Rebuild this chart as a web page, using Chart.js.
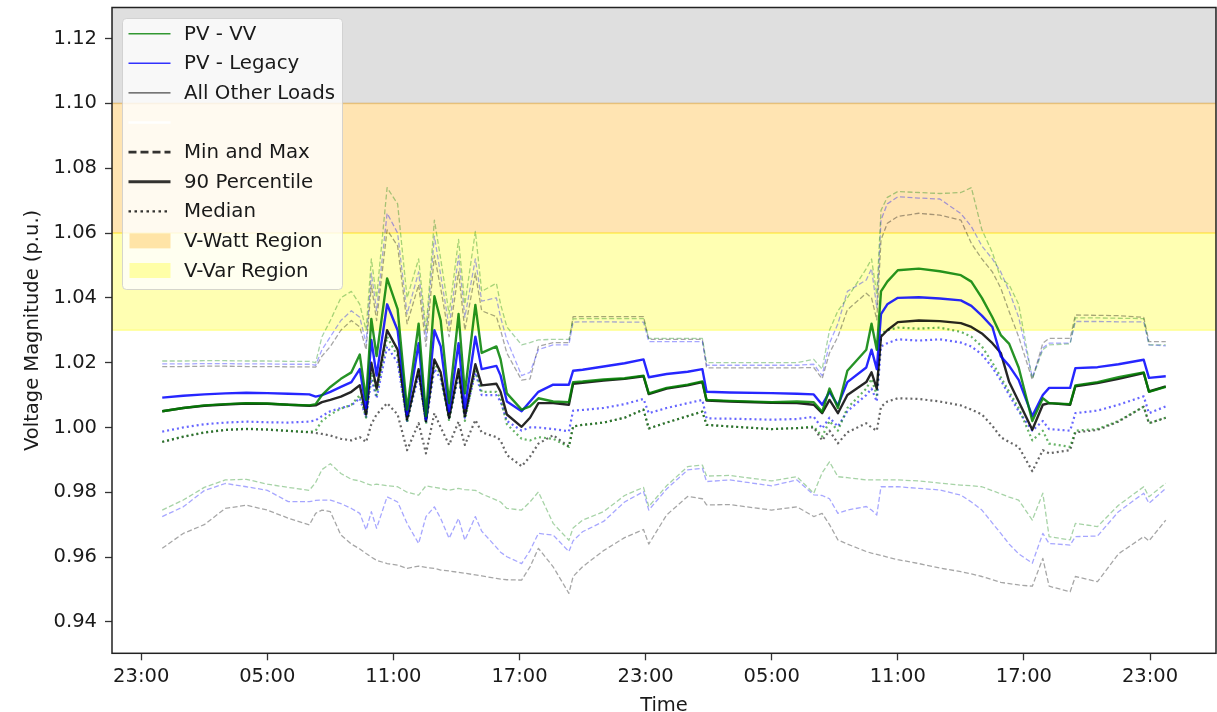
<!DOCTYPE html>
<html>
<head>
<meta charset="utf-8">
<title>Voltage magnitude</title>
<script src="https://cdn.jsdelivr.net/npm/chart.js@4.4.0/dist/chart.umd.min.js"></script>
<style>
  html, body { margin: 0; padding: 0; background: #fff; }
  #wrap { width: 1217px; height: 712px; position: relative; }
</style>
</head>
<body>
<div id="wrap"><canvas id="chart"></canvas></div>
<script>
// hours after 23:00 of the first day (t = 1 is 00:00)
const timeHours = [1,2,3,4,5,6,7,8,8.3,8.6, 9,9.5,10,10.4,10.7,10.95,11.2,11.7,12.2,12.65, 13.2,13.55,13.95,14.25,14.65,15.1,15.4,15.9,16.2,16.9, 17.1,17.4,18.1,18.5,18.9,19.6,20.35,20.55,21,22, 23,23.9,24.15,25,26,26.7,26.9,28,30,31.2, 32,32.4,32.75,33.15,33.6,34.5,34.75,35,35.2,35.5, 36,37,38,39,39.5,40,40.5,40.9,41.3,41.75, 42.4,42.9,43.2,44.2,44.45,45.5,46.5,47.7,47.95,48.75];

// PV - VV
const vvMax = [1.0205,1.0205,1.0206,1.0206,1.0205,1.0205,1.0204,1.0204,1.0200,1.0280, 1.0330,1.0400,1.0420,1.0380,1.0300,1.0520,1.0400,1.0740,1.0690,1.0400, 1.0520,1.0300,1.0640,1.0520,1.0350,1.0580,1.0380,1.0605,1.0420,1.0445, 1.0380,1.0310,1.0255,1.0262,1.0270,1.0272,1.0272,1.0335,1.0336,1.0336, 1.0336,1.0336,1.0275,1.0275,1.0275,1.0275,1.0200,1.0200,1.0200,1.0200, 1.0210,1.0180,1.0300,1.0360,1.0400,1.0490,1.0520,1.0410,1.0670,1.0710, 1.0728,1.0725,1.0722,1.0725,1.0740,1.0610,1.0540,1.0460,1.0440,1.0380, 1.0150,1.0240,1.0255,1.0258,1.0338,1.0338,1.0337,1.0336,1.0255,1.0255];
const vv90 = [1.0050,1.0060,1.0068,1.0072,1.0075,1.0074,1.0070,1.0068,1.0072,1.0100, 1.0125,1.0150,1.0170,1.0225,1.0085,1.0335,1.0220,1.0460,1.0365,1.0055, 1.0320,1.0035,1.0405,1.0330,1.0075,1.0350,1.0105,1.0378,1.0230,1.0250, 1.0210,1.0105,1.0055,1.0065,1.0090,1.0080,1.0078,1.0140,1.0142,1.0148, 1.0152,1.0160,1.0105,1.0122,1.0132,1.0142,1.0085,1.0082,1.0078,1.0080, 1.0078,1.0048,1.0120,1.0060,1.0175,1.0240,1.0320,1.0240,1.0420,1.0450, 1.0485,1.0490,1.0482,1.0470,1.0450,1.0400,1.0340,1.0285,1.0258,1.0185, 1.0020,1.0090,1.0075,1.0072,1.0130,1.0140,1.0155,1.0170,1.0110,1.0125];
const vvMedian = [0.9956,0.9972,0.9985,0.9993,0.9996,0.9994,0.9990,0.9986,0.9990,1.0020, 1.0040,1.0058,1.0070,1.0100,1.0030,1.0170,1.0100,1.0280,1.0220,1.0015, 1.0180,1.0010,1.0200,1.0160,1.0020,1.0170,1.0020,1.0180,1.0110,1.0110, 1.0090,1.0010,0.9965,0.9960,0.9970,0.9965,0.9940,1.0003,1.0008,1.0015, 1.0030,1.0055,0.9997,1.0015,1.0035,1.0049,1.0008,1.0003,0.9995,0.9998, 1.0003,0.9972,1.0020,0.9990,1.0060,1.0120,1.0150,1.0100,1.0290,1.0300, 1.0308,1.0305,1.0308,1.0295,1.0280,1.0250,1.0200,1.0155,1.0110,1.0060, 0.9960,0.9990,0.9950,0.9940,0.9990,0.9995,1.0020,1.0064,1.0013,1.0030];
const vvMin = [0.9745,0.9776,0.9815,0.9838,0.9840,0.9825,0.9815,0.9806,0.9830,0.9870, 0.9888,0.9858,0.9840,0.9835,0.9827,0.9822,0.9825,0.9820,0.9817,0.9800, 0.9791,0.9820,0.9815,0.9812,0.9806,0.9812,0.9808,0.9806,0.9795,0.9776, 0.9770,0.9750,0.9745,0.9770,0.9801,0.9704,0.9652,0.9690,0.9714,0.9740, 0.9790,0.9815,0.9756,0.9820,0.9879,0.9884,0.9850,0.9852,0.9835,0.9848, 0.9797,0.9860,0.9894,0.9848,0.9845,0.9838,0.9838,0.9838,0.9838,0.9838, 0.9838,0.9835,0.9828,0.9822,0.9820,0.9817,0.9805,0.9795,0.9785,0.9776, 0.9714,0.9797,0.9663,0.9653,0.9704,0.9694,0.9760,0.9817,0.9786,0.9828];

// PV - Legacy
const legMax = [1.0196,1.0196,1.0197,1.0197,1.0196,1.0196,1.0195,1.0195,1.0192,1.0240, 1.0280,1.0330,1.0360,1.0340,1.0260,1.0476,1.0360,1.0661,1.0600,1.0350, 1.0480,1.0280,1.0590,1.0470,1.0310,1.0530,1.0340,1.0520,1.0390,1.0400, 1.0340,1.0270,1.0160,1.0170,1.0240,1.0255,1.0255,1.0325,1.0326,1.0326, 1.0325,1.0325,1.0265,1.0265,1.0265,1.0265,1.0192,1.0192,1.0192,1.0192, 1.0195,1.0160,1.0260,1.0320,1.0420,1.0455,1.0490,1.0370,1.0640,1.0690, 1.0712,1.0708,1.0705,1.0660,1.0620,1.0560,1.0520,1.0480,1.0420,1.0340, 1.0155,1.0245,1.0260,1.0260,1.0327,1.0327,1.0326,1.0326,1.0255,1.0252];
const leg90 = [1.0092,1.0098,1.0102,1.0105,1.0107,1.0106,1.0104,1.0102,1.0095,1.0100, 1.0110,1.0125,1.0140,1.0180,1.0060,1.0270,1.0160,1.0380,1.0300,1.0040, 1.0260,1.0025,1.0300,1.0250,1.0050,1.0260,1.0060,1.0280,1.0180,1.0190, 1.0160,1.0080,1.0050,1.0080,1.0110,1.0132,1.0132,1.0175,1.0178,1.0188, 1.0198,1.0210,1.0155,1.0165,1.0172,1.0180,1.0110,1.0108,1.0106,1.0104, 1.0102,1.0070,1.0110,1.0068,1.0140,1.0185,1.0240,1.0180,1.0350,1.0380, 1.0400,1.0402,1.0398,1.0392,1.0375,1.0345,1.0310,1.0220,1.0190,1.0147, 1.0035,1.0100,1.0122,1.0122,1.0183,1.0186,1.0195,1.0209,1.0153,1.0158];
const legMedian = [0.9987,1.0000,1.0010,1.0015,1.0018,1.0016,1.0015,1.0018,1.0022,1.0035, 1.0050,1.0060,1.0068,1.0090,1.0030,1.0150,1.0090,1.0250,1.0200,1.0020, 1.0160,1.0015,1.0180,1.0150,1.0030,1.0160,1.0030,1.0170,1.0100,1.0100, 1.0080,1.0020,0.9990,1.0000,1.0000,0.9995,0.9988,1.0052,1.0054,1.0060, 1.0072,1.0088,1.0044,1.0060,1.0075,1.0085,1.0028,1.0027,1.0024,1.0026, 1.0033,0.9997,1.0030,1.0003,1.0050,1.0100,1.0120,1.0080,1.0250,1.0260, 1.0272,1.0268,1.0272,1.0262,1.0250,1.0225,1.0185,1.0145,1.0100,1.0050, 0.9990,1.0020,0.9995,0.9990,1.0044,1.0052,1.0070,1.0096,1.0044,1.0065];
const legMin = [0.9725,0.9755,0.9805,0.9827,0.9817,0.9806,0.9771,0.9771,0.9775,0.9776, 0.9776,0.9765,0.9750,0.9735,0.9684,0.9740,0.9689,0.9786,0.9770,0.9704, 0.9642,0.9725,0.9755,0.9719,0.9658,0.9719,0.9652,0.9725,0.9680,0.9630, 0.9615,0.9601,0.9580,0.9620,0.9673,0.9668,0.9617,0.9650,0.9678,0.9710, 0.9770,0.9802,0.9745,0.9810,0.9869,0.9874,0.9833,0.9838,0.9820,0.9838, 0.9792,0.9790,0.9780,0.9735,0.9745,0.9756,0.9745,0.9730,0.9817,0.9817, 0.9817,0.9812,0.9807,0.9791,0.9770,0.9745,0.9705,0.9673,0.9640,0.9610, 0.9581,0.9673,0.9642,0.9637,0.9663,0.9665,0.9740,0.9797,0.9766,0.9812];

// All Other Loads
const otherMax = [1.0188,1.0188,1.0189,1.0189,1.0188,1.0188,1.0187,1.0187,1.0186,1.0220, 1.0250,1.0300,1.0330,1.0310,1.0240,1.0440,1.0330,1.0610,1.0560,1.0320, 1.0440,1.0250,1.0530,1.0430,1.0280,1.0480,1.0300,1.0476,1.0360,1.0342, 1.0300,1.0229,1.0146,1.0150,1.0250,1.0262,1.0262,1.0342,1.0342,1.0342, 1.0342,1.0342,1.0272,1.0272,1.0272,1.0272,1.0184,1.0184,1.0184,1.0184, 1.0185,1.0150,1.0230,1.0280,1.0363,1.0414,1.0400,1.0332,1.0579,1.0630, 1.0651,1.0661,1.0655,1.0640,1.0568,1.0520,1.0480,1.0430,1.0357,1.0280, 1.0147,1.0260,1.0275,1.0275,1.0347,1.0346,1.0345,1.0340,1.0265,1.0265];
const other90 = [1.0050,1.0060,1.0067,1.0071,1.0074,1.0073,1.0070,1.0067,1.0068,1.0078, 1.0085,1.0095,1.0110,1.0130,1.0040,1.0200,1.0120,1.0300,1.0240,1.0025, 1.0180,1.0020,1.0210,1.0170,1.0030,1.0180,1.0035,1.0195,1.0130,1.0135, 1.0110,1.0040,1.0002,1.0030,1.0075,1.0075,1.0070,1.0135,1.0138,1.0145, 1.0150,1.0158,1.0103,1.0120,1.0130,1.0140,1.0083,1.0080,1.0076,1.0075, 1.0070,1.0044,1.0085,1.0044,1.0100,1.0140,1.0170,1.0120,1.0280,1.0300, 1.0325,1.0330,1.0328,1.0322,1.0310,1.0290,1.0260,1.0230,1.0140,1.0080, 0.9993,1.0070,1.0075,1.0070,1.0127,1.0137,1.0150,1.0168,1.0111,1.0127];
const otherMedian = [0.9955,0.9971,0.9984,0.9992,0.9995,0.9993,0.9989,0.9985,0.9983,0.9980, 0.9975,0.9965,0.9960,0.9970,0.9955,1.0010,1.0040,1.0075,1.0040,0.9930, 1.0013,0.9920,1.0044,1.0000,0.9946,1.0018,0.9946,1.0023,0.9985,0.9970, 0.9960,0.9915,0.9880,0.9910,0.9950,0.9976,0.9941,1.0003,1.0008,1.0015, 1.0030,1.0055,0.9997,1.0015,1.0035,1.0049,1.0008,1.0003,0.9995,0.9998, 1.0000,0.9960,0.9990,0.9951,0.9985,1.0013,1.0000,0.9990,1.0064,1.0080, 1.0090,1.0088,1.0080,1.0068,1.0055,1.0040,1.0005,0.9970,0.9955,0.9940, 0.9865,0.9930,0.9920,0.9930,0.9985,0.9992,1.0018,1.0064,1.0013,1.0030];
const otherMin = [0.9627,0.9673,0.9700,0.9750,0.9760,0.9745,0.9720,0.9699,0.9735,0.9745, 0.9740,0.9668,0.9640,0.9625,0.9611,0.9600,0.9590,0.9580,0.9575,0.9565, 0.9572,0.9568,0.9565,0.9560,0.9557,0.9553,0.9550,0.9545,0.9542,0.9534, 0.9532,0.9530,0.9529,0.9570,0.9627,0.9570,0.9488,0.9540,0.9570,0.9620, 0.9660,0.9685,0.9640,0.9730,0.9787,0.9780,0.9761,0.9762,0.9745,0.9755, 0.9725,0.9735,0.9700,0.9653,0.9640,0.9617,0.9612,0.9608,0.9605,0.9600, 0.9592,0.9580,0.9566,0.9555,0.9548,0.9540,0.9530,0.9522,0.9518,0.9514, 0.9510,0.9596,0.9510,0.9493,0.9540,0.9524,0.9610,0.9663,0.9650,0.9714];

const xTickHours = [0, 6, 12, 18, 24, 30, 36, 42, 48];
const xTickLabels = ["23:00", "05:00", "11:00", "17:00", "23:00", "05:00", "11:00", "17:00", "23:00"];
const yTicks = [0.94, 0.96, 0.98, 1.00, 1.02, 1.04, 1.06, 1.08, 1.10, 1.12];

// shaded regions (lower, upper in p.u.)
const bandNames = ["over", "V-Watt Region", "V-Var Region"];
const bandLow = [1.10, 1.06, 1.03];
const bandHigh = [1.20, 1.10, 1.06];

const legendLabels = ["PV - VV", "PV - Legacy", "All Other Loads", "", "Min and Max", "90 Percentile", "Median", "V-Watt Region", "V-Var Region"];

const FONT = "DejaVu Sans";
const TXT = "#1a1a1a";
const bandColors = ["rgba(128,128,128,0.25)", "rgba(255,165,0,0.3)", "rgba(255,255,0,0.3)"];

function pts(values) {
  return timeHours.map((t, i) => ({ x: t, y: values[i] }));
}

function rgba(rgb, a) {
  return `rgba(${rgb},${a})`;
}

const GREEN = "0,128,0", BLUE = "0,0,255", BLACK = "0,0,0";

function solid(label, values, rgb) {
  return { label, data: pts(values), borderColor: rgba(rgb, 0.85), borderWidth: 2.4 };
}
function dotted(label, values, rgb) {
  return { label, data: pts(values), borderColor: rgba(rgb, 0.6), borderWidth: 2.2, borderDash: [2, 3] };
}
function dashed(label, values, rgb) {
  return { label, data: pts(values), borderColor: rgba(rgb, 0.35), borderWidth: 1.3, borderDash: [5, 2.5] };
}

const datasets = [
  solid("PV - VV 90", vv90, GREEN),
  solid("PV - Legacy 90", leg90, BLUE),
  solid("Other 90", other90, BLACK),
  dotted("PV - VV median", vvMedian, GREEN),
  dotted("PV - Legacy median", legMedian, BLUE),
  dotted("Other median", otherMedian, BLACK),
  dashed("PV - VV max", vvMax, GREEN),
  dashed("PV - Legacy max", legMax, BLUE),
  dashed("Other max", otherMax, BLACK),
  dashed("PV - VV min", vvMin, GREEN),
  dashed("PV - Legacy min", legMin, BLUE),
  dashed("Other min", otherMin, BLACK),
];

const bandPlugin = {
  id: "bands",
  beforeDatasetsDraw(chart) {
    const { ctx, chartArea: a, scales: { y } } = chart;
    ctx.save();
    ctx.beginPath();
    ctx.rect(a.left, a.top, a.right - a.left, a.bottom - a.top);
    ctx.clip();
    bandNames.forEach((name, i) => {
      const top = y.getPixelForValue(bandHigh[i]);
      const bottom = y.getPixelForValue(bandLow[i]);
      ctx.fillStyle = bandColors[i];
      ctx.fillRect(a.left, top, a.right - a.left, bottom - top);
      ctx.strokeStyle = bandColors[i];
      ctx.lineWidth = 1.5;
      ctx.strokeRect(a.left, top, a.right - a.left, bottom - top);
    });
    ctx.restore();
  },
  afterDatasetsDraw(chart) {
    const { ctx, chartArea: a } = chart;
    ctx.save();
    ctx.strokeStyle = "#222";
    ctx.lineWidth = 1.5;
    ctx.strokeRect(a.left, a.top, a.right - a.left, a.bottom - a.top);
    ctx.restore();
  },
};

// matplotlib style legend box in the upper left corner
const legendPlugin = {
  id: "boxLegend",
  afterDraw(chart) {
    const { ctx, chartArea: a } = chart;
    const x0 = a.left + 10.5, y0 = a.top + 11, w = 220, h = 271;
    const rowH = 29.6;
    ctx.save();
    ctx.beginPath();
    ctx.roundRect(x0, y0, w, h, 4);
    ctx.fillStyle = "rgba(255,255,255,0.8)";
    ctx.fill();
    ctx.strokeStyle = "rgba(204,204,204,0.8)";
    ctx.lineWidth = 1;
    ctx.stroke();

    const hx0 = x0 + 6, hx1 = x0 + 48;
    const handle = (i, color, width, dash) => {
      const yy = y0 + 15.2 + i * rowH;
      ctx.beginPath();
      ctx.setLineDash(dash || []);
      ctx.strokeStyle = color;
      ctx.lineWidth = width;
      ctx.moveTo(hx0, yy);
      ctx.lineTo(hx1, yy);
      ctx.stroke();
    };
    handle(0, "rgba(0,128,0,0.8)", 1.4);
    handle(1, "rgba(0,0,255,0.8)", 1.4);
    handle(2, "rgba(0,0,0,0.7)", 1.4);
    handle(3, "#ffffff", 2.5);
    handle(4, "rgba(0,0,0,0.8)", 2.8, [8, 4]);
    handle(5, "rgba(0,0,0,0.8)", 3);
    handle(6, "rgba(0,0,0,0.8)", 2.2, [2.5, 3.5]);
    ctx.setLineDash([]);
    [7, 8].forEach((i, k) => {
      const yy = y0 + 15.2 + i * rowH;
      ctx.fillStyle = bandColors[k + 1];
      ctx.fillRect(hx0 + 1, yy - 7.5, hx1 - hx0 - 1, 15);
    });

    ctx.fillStyle = TXT;
    ctx.font = `19.8px "${FONT}"`;
    ctx.textBaseline = "middle";
    ctx.textAlign = "left";
    legendLabels.forEach((lab, i) => {
      if (lab) ctx.fillText(lab, x0 + 61.5, y0 + 15.2 + i * rowH + 1);
    });
    ctx.restore();
  },
};

const tickFont = { family: FONT, size: 19.5 };

new Chart(document.getElementById("chart"), {
  type: "line",
  data: { datasets },
  options: {
    responsive: true,
    maintainAspectRatio: false,
    animation: false,
    devicePixelRatio: 1,
    parsing: false,
    layout: { padding: { top: 7.5, right: 1, left: 0, bottom: 0 } },
    elements: {
      point: { radius: 0 },
      line: { tension: 0, borderJoinStyle: "round", borderCapStyle: "butt" },
    },
    plugins: { legend: { display: false }, tooltip: { enabled: false } },
    scales: {
      x: {
        type: "linear",
        min: -1.39,
        max: 51.14,
        afterBuildTicks: (s) => { s.ticks = xTickHours.map((v) => ({ value: v })); },
        afterFit: (s) => { s.height = 58.7; s.paddingLeft = 0; s.paddingRight = 0; },
        ticks: {
          autoSkip: false,
          maxRotation: 0,
          padding: 5,
          color: TXT,
          font: tickFont,
          callback: (v, i) => xTickLabels[i],
        },
        grid: { drawOnChartArea: false, drawTicks: true, tickLength: 7, tickColor: "#333", tickWidth: 1.3 },
        border: { display: false },
        title: { display: true, text: "Time", color: TXT, font: { family: FONT, size: 19.5, lineHeight: 0.67 }, padding: { top: 0, bottom: 0 } },
      },
      y: {
        type: "linear",
        min: 0.9303,
        max: 1.1296,
        afterBuildTicks: (s) => { s.ticks = yTicks.map((v) => ({ value: v })); },
        afterFit: (s) => { s.width = 112; s.paddingTop = 0; s.paddingBottom = 0; },
        ticks: {
          padding: 8,
          color: TXT,
          font: tickFont,
          callback: (v) => Number(v).toFixed(2),
        },
        grid: { drawOnChartArea: false, drawTicks: true, tickLength: 7, tickColor: "#333", tickWidth: 1.3 },
        border: { display: false },
        title: { display: true, text: "Voltage Magnitude (p.u.)", color: TXT, font: { family: FONT, size: 19.5, lineHeight: 1 }, padding: { top: 23.5, bottom: 0 } },
      },
    },
  },
  plugins: [bandPlugin, legendPlugin],
});
</script>
</body>
</html>
